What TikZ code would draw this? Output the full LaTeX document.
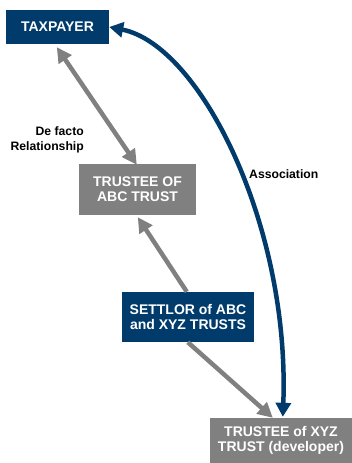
\documentclass[tikz,border=0pt]{standalone}
\usepackage{fontspec}
\setmainfont{Liberation Sans}
\usetikzlibrary{arrows.meta,calc}
\definecolor{navy}{RGB}{0,59,108}
\definecolor{boxgray}{RGB}{128,128,128}
\begin{document}
\begin{tikzpicture}[x=1pt,y=-1pt,
  box/.style={inner sep=0pt, align=center, text=white, font=\bfseries\fontsize{14}{15}\selectfont},
  bluebox/.style={box, fill=navy},
  graybox/.style={box, fill=boxgray},
  lab/.style={inner sep=0pt, font=\bfseries\fontsize{12.2}{15}\selectfont, text=black},
  garrow/.style={draw=boxgray, line width=4.5pt},
  barrow/.style={draw=navy, line width=4.5pt}
]
\useasboundingbox (0,0) rectangle (352,463);
\node[bluebox, minimum width=103pt, minimum height=34pt] (tax) at (57.5,27) {TAXPAYER};
\node[graybox, minimum width=117pt, minimum height=51pt] (abc) at (137.5,189.5) {TRUSTEE OF\\ABC TRUST};
\node[bluebox, minimum width=132pt, minimum height=50pt] (set) at (188,317) {SETTLOR of ABC\\and XYZ TRUSTS};
\node[graybox, minimum width=142pt, minimum height=45pt] (xyz) at (281,440.5) {TRUSTEE of XYZ\\TRUST (developer)};
\node[lab, anchor=east, align=right] (df) at (84,140) {De facto\\Relationship};
\node[lab, anchor=west] (as) at (249,174) {Association};
\draw[garrow, {Triangle[length=15pt,width=15pt]}-{Triangle[length=15pt,width=15pt]}]
  ($(tax.south west)+(51,3)$) -- ($(abc.north west)+(58,1)$);
\draw[garrow, -{Triangle[length=15pt,width=15pt]}]
  ($(set.north west)+(65,0)$) -- ($(abc.south west)+(59,2)$);
\draw[garrow, -{Triangle[length=15pt,width=15pt]}]
  ($(set.south west)+(66,0)$) -- ($(xyz.north west)+(63,0)$);
\draw[barrow, {Triangle[length=14pt,width=15pt]}-{Triangle[length=14pt,width=15pt]}]
  (tax.east) .. controls (200,45) and (290,225) .. ($(xyz.north west)+(73,-1)$);
\end{tikzpicture}
\end{document}
